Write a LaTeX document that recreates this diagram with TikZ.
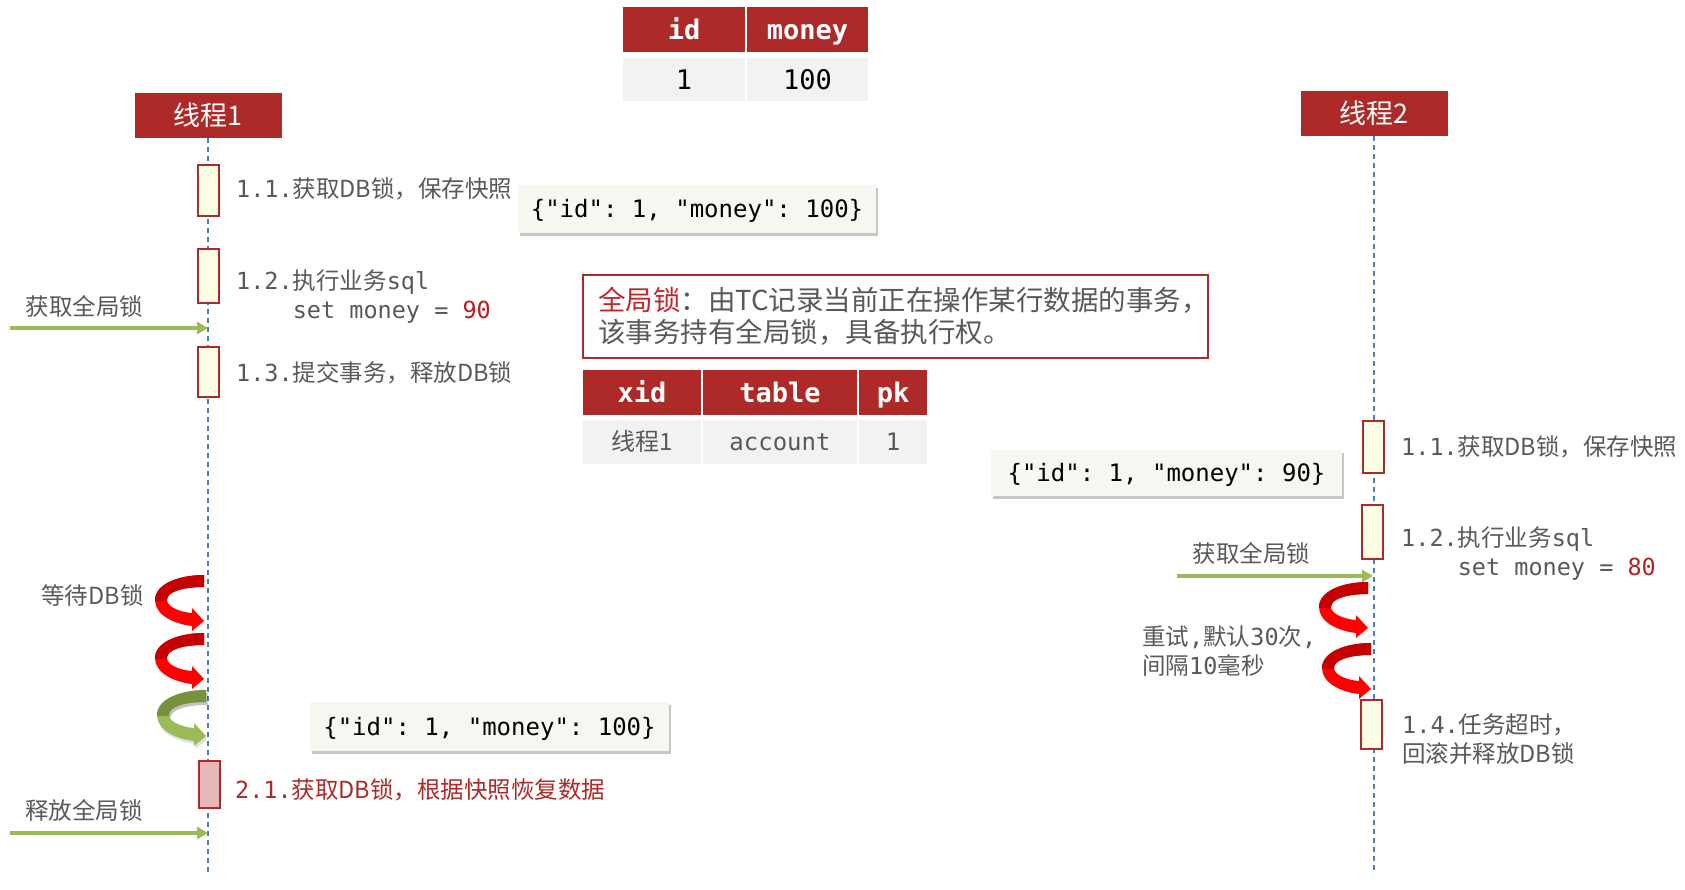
\documentclass[tikz,border=0pt]{standalone}
\usepackage{fontspec}
\setmainfont{Noto Sans CJK SC}
\setmonofont{DejaVu Sans Mono}
\usetikzlibrary{arrows.meta,shadows}

\definecolor{hdred}{RGB}{174,42,40}
\definecolor{txtgray}{RGB}{89,89,89}
\definecolor{lifeblue}{RGB}{74,126,187}
\definecolor{actfill}{RGB}{255,255,230}
\definecolor{pinkfill}{RGB}{230,185,184}
\definecolor{okgreen}{RGB}{155,187,89}
\definecolor{darkgreen}{RGB}{118,146,60}
\definecolor{curlred}{RGB}{255,0,0}
\definecolor{curldark}{RGB}{196,0,0}
\definecolor{jsonbg}{RGB}{244,248,241}
\definecolor{cellgray}{RGB}{242,242,242}
\definecolor{valred}{RGB}{186,30,30}
\definecolor{lockred}{RGB}{192,39,45}

\tikzset{
  thread/.style={fill=hdred, text=white, minimum width=147pt, minimum height=45pt, inner sep=0pt, font=\fontsize{27}{30}\selectfont},
  lifeline/.style={draw=lifeblue, line width=1.8pt, dash pattern=on 5pt off 4pt},
  actbox/.style={draw=hdred, line width=2pt, fill=actfill, minimum width=21pt, inner sep=0pt},
  note/.style={text=txtgray, anchor=west, align=left, inner sep=0pt, font=\fontsize{23.5}{29}\selectfont},
  hcell/.style={fill=hdred, text=white, minimum height=45pt, inner sep=0pt, text height=23pt, text depth=3pt,
    font=\fontsize{27}{30}\selectfont\ttfamily\bfseries},
  dcell/.style={fill=cellgray, minimum height=44pt, inner sep=0pt, text height=22pt, text depth=2pt,
    font=\fontsize{27}{30}\selectfont\ttfamily},
  jsonbox/.style={fill=jsonbg, inner sep=0pt, text height=20pt, text depth=3pt, font=\fontsize{24}{28}\selectfont\ttfamily,
    drop shadow={shadow xshift=1.5pt, shadow yshift=-3pt, fill=black, opacity=0.22}},
  lockarrow/.style={draw=okgreen, line width=4pt, -{Triangle[length=11pt,width=12pt]}},
  pics/curl/.style 2 args={code={
    \fill[#2] (0,0) .. controls (-25,0) and (-49,9) .. (-49,25) .. controls (-49,40) and (-30,49) .. (-12,51)
      -- (-12,56) -- (0,46) -- (-12,33) -- (-12,38) .. controls (-26,37) and (-37,31) .. (-37,25)
      .. controls (-37,17) and (-22,12) .. (0,12) -- cycle;
    \begin{scope}
      \clip (-60,-3) rectangle (3,25);
      \fill[#1] (0,0) .. controls (-25,0) and (-49,9) .. (-49,25) .. controls (-49,40) and (-30,49) .. (-12,51)
        -- (-12,56) -- (0,46) -- (-12,33) -- (-12,38) .. controls (-26,37) and (-37,31) .. (-37,25)
        .. controls (-37,17) and (-22,12) .. (0,12) -- cycle;
    \end{scope}
  }}
}

\begin{document}
\begin{tikzpicture}[x=1pt,y=-1pt]
  \fill[white] (0,0) rectangle (1685,890);
  \useasboundingbox (0,0) rectangle (1685,890);

  % data table
  \node[hcell, minimum width=122pt] (idH) at (684,29.5) {id};
  \node[hcell, minimum width=121pt] (moneyH) at (807.5,29.5) {money};
  \node[dcell, minimum width=122pt, minimum height=43pt] (idD) at (684,79.5) {1};
  \node[dcell, minimum width=121pt, minimum height=43pt] (moneyD) at (807.5,79.5) {100};

  % threads and lifelines
  \node[thread] (th1) at (208,115.5) {线程1};
  \node[thread] (th2) at (1374,113.5) {线程2};
  \coordinate (l1end) at (208,875);
  \coordinate (l2end) at (1374,873);
  \draw[lifeline] (th1.south) -- (l1end);
  \draw[lifeline] (th2.south) -- (l2end);

  % global lock note and lock table
  \node[draw=hdred, line width=2pt, minimum width=625pt, minimum height=83pt] (glock) at (895.5,316.5) {};
  \node[anchor=west, align=left, inner sep=0pt, text=txtgray, font=\fontsize{27.5}{32}\selectfont] (glocktxt)
    at ([xshift=16pt]glock.west)
    {\textcolor{lockred}{全局锁}：由TC记录当前正在操作某行数据的事务，\\该事务持有全局锁，具备执行权。};
  \node[hcell, minimum width=118pt] (xidH) at (642,392.5) {xid};
  \node[hcell, minimum width=154pt] (tableH) at (780,392.5) {table};
  \node[hcell, minimum width=68pt] (pkH) at (893,392.5) {pk};
  \node[dcell, minimum width=118pt, text=txtgray, text height=20pt, text depth=3pt,
    font=\fontsize{24}{28}\selectfont] (xidD) at (642,442) {线程1};
  \node[dcell, minimum width=154pt, text=txtgray, text height=20pt, text depth=3pt,
    font=\fontsize{24}{28}\selectfont\ttfamily] (tableD) at (780,442) {account};
  \node[dcell, minimum width=68pt, text=txtgray, text height=20pt, text depth=3pt,
    font=\fontsize{24}{28}\selectfont\ttfamily] (pkD) at (893,442) {1};

  % thread 1
  \node[actbox, minimum height=51pt] (a11) at (208,190.5) {};
  \node[actbox, minimum height=54pt] (a12) at (208,276) {};
  \node[actbox, minimum height=50pt] (a13) at (208,372) {};
  \node[actbox, fill=pinkfill, minimum height=47pt] (a21) at (209,784.5) {};
  \node[note] (n11) at (236,189) {{\ttfamily 1.1.}获取DB锁，保存快照};
  \node[note] (n12) at (236,296.5) {{\ttfamily 1.2.}执行业务{\ttfamily sql}\\
    \phantom{\ttfamily 1.2.}{\ttfamily set money = \textcolor{valred}{90}}};
  \node[note] (n13) at (236,373) {{\ttfamily 1.3.}提交事务，释放DB锁};
  \node[note, text=hdred] (n21) at (235,790) {{\ttfamily 2.1.}获取DB锁，根据快照恢复数据};
  \node[note, anchor=center] (get1) at (84.5,306) {获取全局锁};
  \node[note, anchor=center] (wait1) at (92.5,596) {等待DB锁};
  \node[note, anchor=center] (rel1) at (84,810) {释放全局锁};

  \coordinate (g1s) at (10,328);
  \coordinate (g1e) at (208,328);
  \draw[lockarrow] (g1s) -- (g1e);
  \coordinate (g3s) at (10,833);
  \coordinate (g3e) at (208,833);
  \draw[lockarrow] (g3s) -- (g3e);

  \pic at (204,575) {curl={curldark}{curlred}};
  \pic at (204,633) {curl={curldark}{curlred}};
  \pic[opacity=0.12] at (207.5,693) {curl={black}{black}};
  \pic at (206,690) {curl={darkgreen}{okgreen}};

  % thread 2
  \node[actbox, minimum height=52pt] (b11) at (1373,447) {};
  \node[actbox, minimum height=54pt] (b12) at (1372,532) {};
  \node[actbox, minimum height=49pt] (b14) at (1371.5,724.5) {};
  \node[note] (m11) at (1401,447) {{\ttfamily 1.1.}获取DB锁，保存快照};
  \node[note] (m12) at (1401,553.5) {{\ttfamily 1.2.}执行业务{\ttfamily sql}\\
    \phantom{\ttfamily 1.2.}{\ttfamily set money = \textcolor{valred}{80}}};
  \node[note] (m14) at (1402,739) {{\ttfamily 1.4.}任务超时，\\回滚并释放DB锁};
  \node[note, anchor=center] (get2) at (1251.5,553) {获取全局锁};
  \node[note] (retry) at (1142,651.5) {重试{\ttfamily ,}默认{\ttfamily 30}次{\ttfamily ,}\\间隔{\ttfamily 10}毫秒};

  \coordinate (g2s) at (1177,576);
  \coordinate (g2e) at (1373,576);
  \draw[lockarrow] (g2s) -- (g2e);

  \pic at (1368,582) {curl={curldark}{curlred}};
  \pic at (1371,643) {curl={curldark}{curlred}};

  % snapshots
  \node[jsonbox, minimum width=358pt, minimum height=48pt] (js1) at (697,209) {\{"id": 1, "money": 100\}};
  \node[jsonbox, minimum width=351pt, minimum height=46pt] (js2) at (1166.5,473) {\{"id": 1, "money": 90\}};
  \node[jsonbox, minimum width=359pt, minimum height=49pt] (js3) at (489.5,726.5) {\{"id": 1, "money": 100\}};
\end{tikzpicture}
\end{document}
